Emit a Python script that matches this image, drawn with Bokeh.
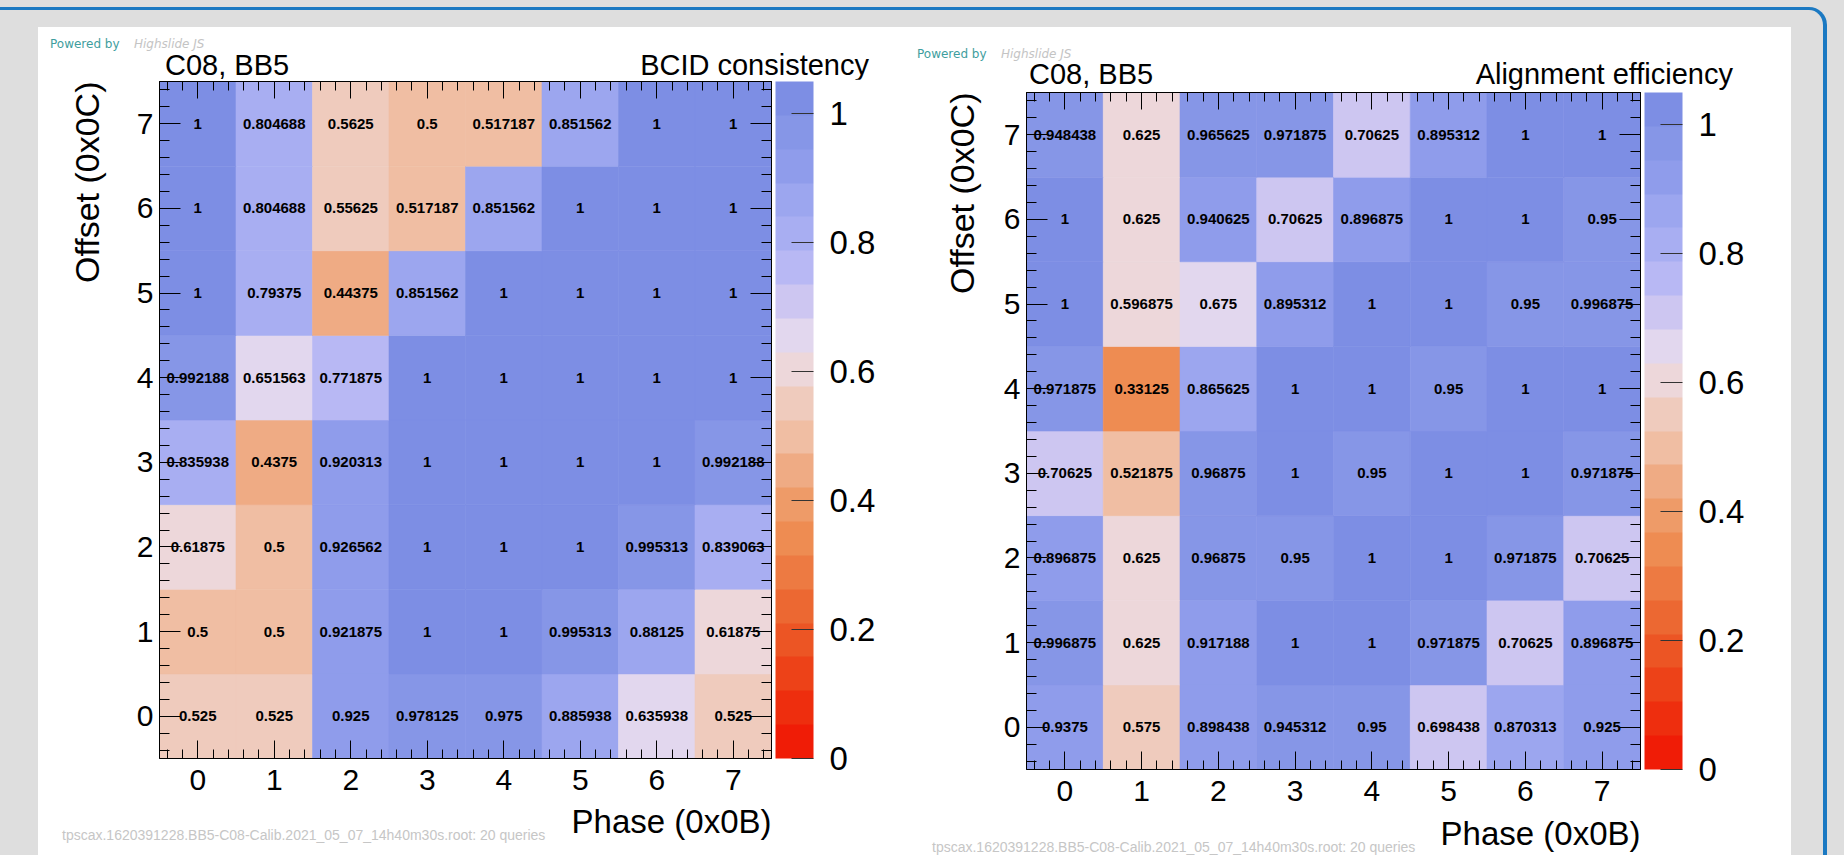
from bokeh.plotting import figure
from bokeh.models import (ColumnDataSource, LinearColorMapper, ColorBar, FixedTicker,
                          LinearAxis, SingleIntervalTicker, Div, Spacer, Title,
                          GlobalInlineStyleSheet)
from bokeh.layouts import row, column
from bokeh.core.properties import value
from bokeh.embed import file_html
from bokeh.resources import INLINE

# ---------------- data ----------------
phase = [0, 1, 2, 3, 4, 5, 6, 7]
offset = [0, 1, 2, 3, 4, 5, 6, 7]

# BCID consistency, one list per offset (rows), values across phase 0..7
bcid_off0 = [0.525, 0.525, 0.925, 0.978125, 0.975, 0.885938, 0.635938, 0.525]
bcid_off1 = [0.5, 0.5, 0.921875, 1, 1, 0.995313, 0.88125, 0.61875]
bcid_off2 = [0.61875, 0.5, 0.926562, 1, 1, 1, 0.995313, 0.839063]
bcid_off3 = [0.835938, 0.4375, 0.920313, 1, 1, 1, 1, 0.992188]
bcid_off4 = [0.992188, 0.651563, 0.771875, 1, 1, 1, 1, 1]
bcid_off5 = [1, 0.79375, 0.44375, 0.851562, 1, 1, 1, 1]
bcid_off6 = [1, 0.804688, 0.55625, 0.517187, 0.851562, 1, 1, 1]
bcid_off7 = [1, 0.804688, 0.5625, 0.5, 0.517187, 0.851562, 1, 1]

# Alignment efficiency
align_off0 = [0.9375, 0.575, 0.898438, 0.945312, 0.95, 0.698438, 0.870313, 0.925]
align_off1 = [0.996875, 0.625, 0.917188, 1, 1, 0.971875, 0.70625, 0.896875]
align_off2 = [0.896875, 0.625, 0.96875, 0.95, 1, 1, 0.971875, 0.70625]
align_off3 = [0.70625, 0.521875, 0.96875, 1, 0.95, 1, 1, 0.971875]
align_off4 = [0.971875, 0.33125, 0.865625, 1, 1, 0.95, 1, 1]
align_off5 = [1, 0.596875, 0.675, 0.895312, 1, 1, 0.95, 0.996875]
align_off6 = [1, 0.625, 0.940625, 0.70625, 0.896875, 1, 1, 0.95]
align_off7 = [0.948438, 0.625, 0.965625, 0.971875, 0.70625, 0.895312, 1, 1]

cbar_ticks = [0, 0.2, 0.4, 0.6, 0.8, 1.0]
cbar_labels = ["0", "0.2", "0.4", "0.6", "0.8", "1"]
z_low, z_high = 0.0, 1.05

palette = ["#f01c06", "#ee2e0e", "#ed4218", "#ec5524", "#ec6832", "#ed7a42",
           "#ee8c52", "#ee9b68", "#efab84", "#f0bea3", "#efcbbd", "#edd7da",
           "#e2d7ee", "#cdc6f1", "#b8b8f4", "#a8aef2", "#9ca6ef", "#8f9ceb",
           "#8696e7", "#7d8ee4"]

pad_title = "C08, BB5"
titles = ["BCID consistency", "Alignment efficiency"]
x_title = "Phase (0x0B)"
y_title = "Offset (0x0C)"
footnote = "tpscax.1620391228.BB5-C08-Calib.2021_05_07_14h40m30s.root: 20 queries"

FONT = "Liberation Sans"
BG = "#dedede"
BLUE = "#1b79c2"
FW, FH = 614, 677


def minor_positions():
    out = []
    for k in range(41):
        t = round(-0.5 + 0.2 * k + 0.1, 1)
        if -0.5 < t < 7.5 and abs(t - round(t)) > 1e-6:
            out.append(t)
    return out


def mirror_axis(p, side, length_major, length_minor):
    for ticks, ln in ((phase, length_major), (minor_positions(), length_minor)):
        ax = LinearAxis(ticker=FixedTicker(ticks=[], minor_ticks=ticks),
                        minor_tick_in=ln, minor_tick_out=0, major_tick_in=0,
                        major_tick_out=0, major_label_standoff=0,
                        axis_line_color="black", minor_tick_line_color="black")
        p.add_layout(ax, side)


def make_plot(rows, W, H, left_b, right_b, top_b, xlab_standoff, xtitle_standoff,
              ytitle_standoff):
    bottom_b = H - top_b - FH
    p = figure(width=W, height=H, x_range=(-0.5, 7.5), y_range=(-0.5, 7.5),
               toolbar_location=None, output_backend="svg",
               min_border_left=left_b, min_border_right=right_b,
               min_border_top=top_b, min_border_bottom=bottom_b,
               background_fill_color="white", border_fill_color="white",
               outline_line_color="black")
    p.grid.visible = False
    xb = p.xaxis[0]
    yl = p.yaxis[0]

    xs, ys, vs, ts = [], [], [], []
    for oi, vals in zip(offset, rows):
        for ph, v in zip(phase, vals):
            xs.append(ph); ys.append(oi); vs.append(v); ts.append("%g" % v)
    src = ColumnDataSource(dict(x=xs, y=ys, v=vs, t=ts))
    mapper = LinearColorMapper(palette=palette, low=z_low - 1e-9, high=z_high)
    p.rect(x="x", y="y", width=1, height=1, source=src,
           fill_color={"field": "v", "transform": mapper},
           line_color={"field": "v", "transform": mapper}, line_width=0.6)
    p.text(x="x", y="y", text="t", source=src, text_align="center",
           text_baseline="middle", text_font=value(FONT), text_font_style="bold",
           text_font_size="15px", text_color="black")

    xb.ticker = SingleIntervalTicker(interval=1, num_minor_ticks=5)
    yl.ticker = SingleIntervalTicker(interval=1, num_minor_ticks=5)
    xb.major_tick_in = 18; xb.minor_tick_in = 9
    yl.major_tick_in = 21; yl.minor_tick_in = 10
    for ax in (xb, yl):
        ax.major_tick_out = 0; ax.minor_tick_out = 0
        ax.axis_line_color = "black"
        ax.major_tick_line_color = "black"
        ax.minor_tick_line_color = "black"
        ax.major_label_text_font = FONT
        ax.major_label_text_font_size = "30px"
        ax.major_label_text_color = "black"
    xb.major_label_standoff = xlab_standoff
    yl.major_label_standoff = 6

    # axis titles, aligned to the end of the axes as in ROOT
    p.add_layout(Title(text=x_title, align="right", text_font=FONT, text_font_size="33px",
                       text_font_style="normal", text_color="black",
                       standoff=xtitle_standoff), "below")
    p.add_layout(Title(text=y_title, align="right", text_font=FONT, text_font_size="34px",
                       text_font_style="normal", text_color="black",
                       standoff=ytitle_standoff), "left")

    mirror_axis(p, "above", 17, 9)
    mirror_axis(p, "right", 21, 10)

    cb = ColorBar(color_mapper=LinearColorMapper(palette=palette, low=z_low, high=z_high),
                  ticker=FixedTicker(ticks=cbar_ticks),
                  major_label_overrides=dict(zip(cbar_ticks, cbar_labels)),
                  width=38, height=FH, padding=0, margin=0, location=(4, 0),
                  major_tick_in=22, major_tick_out=0, major_tick_line_color="#333333",
                  minor_tick_line_color=None, bar_line_color=None,
                  major_label_text_font=FONT, major_label_text_font_size="33px",
                  major_label_text_color="black", label_standoff=16,
                  background_fill_color=None, border_line_color=None)
    p.add_layout(cb, "right")
    return p


def span(left=None, right=None, top=0, family=FONT, size=29, color="#000", italic=False, text=""):
    pos = f"left:{left}px;" if left is not None else f"right:{right}px;"
    st = "font-style:italic;" if italic else ""
    return (f'<span style="position:absolute;{pos}top:{top}px;white-space:nowrap;'
            f'font-family:\'{family}\';font-size:{size}px;line-height:1;{st}color:{color}">{text}</span>')


def header_div(W, H, pow_left, pow_top, t_left, t_right, t_top, right_title):
    html = (f'<div style="position:relative;width:{W}px;height:{H}px;">'
            + span(left=pow_left, top=pow_top, family="DejaVu Sans", size=12, color="#3f9e9e",
                   text="Powered by")
            + span(left=pow_left + 84, top=pow_top, family="DejaVu Sans", size=12, color="#c4c4c4",
                   italic=True, text="Highslide JS")
            + span(left=t_left, top=t_top, text=pad_title)
            + span(right=t_right, top=t_top, text=right_title)
            + '</div>')
    return Div(text=html, width=W, height=H, margin=0, styles={"background-color": "white"})


def foot_div(W, left, top):
    html = (f'<div style="position:relative;width:{W}px;height:30px;">'
            + span(left=left, top=top, size=14, color="#c6c6c6", text=footnote) + '</div>')
    return Div(text=html, width=W, height=30, margin=(-30, 0, 0, 0))


bcid_rows = [bcid_off0, bcid_off1, bcid_off2, bcid_off3, bcid_off4, bcid_off5, bcid_off6, bcid_off7]
align_rows = [align_off0, align_off1, align_off2, align_off3, align_off4, align_off5, align_off6, align_off7]

# left panel: page x 38..905, header 27..79, figure 79..855 (frame 81..758)
p1 = make_plot(bcid_rows, 867, 776, 119, 134, 2, 11, 16, 55)
col1 = column(header_div(867, 52, 12, 10.8, 127, 36, 23.5, titles[0]), p1,
              foot_div(867, 24, 3), spacing=0, styles={"background-color": "white"})
# right panel: page x 905..1791, header 27..90, figure 90..869 (frame 92..769);
# the bottom part lies below the window, as in the reference
p2 = make_plot(align_rows, 886, 779, 121, 151, 2, 11, 18, 40)
col2 = column(header_div(886, 63, 12, 20.8, 124, 58, 32.9, titles[1]), p2,
              foot_div(886, 27, 1), spacing=0, styles={"background-color": "white"})

top_band = column(
    Spacer(width=1827, height=7, styles={"background-color": BG}),
    row(Spacer(width=1805, height=20, styles={"border-top": f"3px solid {BLUE}",
                                               "box-sizing": "border-box",
                                               "background-color": BG}),
        Spacer(width=22, height=20, styles={"border-top": f"3px solid {BLUE}",
                                             "border-right": f"4px solid {BLUE}",
                                             "border-top-right-radius": "18px",
                                             "box-sizing": "border-box",
                                             "background-color": BG}),
        spacing=0),
    spacing=0)
main_band = row(
    Spacer(width=38, height=842, styles={"background-color": BG}),
    col1, col2,
    Spacer(width=32, height=842, styles={"background-color": BG}),
    Spacer(width=4, height=842, styles={"background-color": BLUE}),
    spacing=0)

root = column(top_band, main_band, spacing=0,
              stylesheets=[GlobalInlineStyleSheet(
                  css=f"html, body {{ background-color: {BG}; overflow: hidden; }}")])

open("out.html", "w").write(file_html(root, INLINE))
